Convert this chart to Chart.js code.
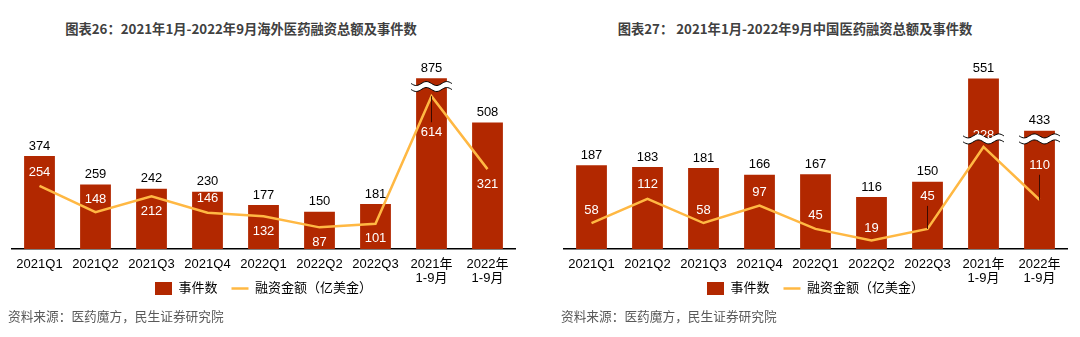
<!DOCTYPE html>
<html>
<head>
<meta charset="utf-8">
<script src="https://cdn.jsdelivr.net/npm/chart.js@4.4.0/dist/chart.umd.min.js"></script>
<style>
  body { margin: 0; background: #fff; width: 1080px; height: 337px; overflow: hidden; position: relative; }
  .title { position: absolute; top: 19px; font: bold 13.3px "Noto Sans CJK SC", sans-serif; color: #404040; text-align: center; white-space: nowrap; }
  .src { position: absolute; top: 306px; font: 12.7px "Noto Sans CJK SC", sans-serif; color: #595959; white-space: nowrap; }
  .box { position: absolute; top: 0; height: 337px; }
</style>
</head>
<body>
<div class="title" style="left:0;width:482px">图表26：2021年1月-2022年9月海外医药融资总额及事件数</div>
<div class="title" style="left:540px;width:510px">图表27： 2021年1月-2022年9月中国医药融资总额及事件数</div>
<div class="box" style="left:-10px;width:530px"><canvas id="abroad" width="530" height="337"></canvas></div>
<div class="box" style="left:522px;width:558px"><canvas id="china" width="558" height="337"></canvas></div>
<div class="src" style="left:8px">资料来源：医药魔方，民生证券研究院</div>
<div class="src" style="left:561px">资料来源：医药魔方，民生证券研究院</div>
<script>
// ── Data ─────────────────────────────────────────────────

const categories = ['2021Q1', '2021Q2', '2021Q3', '2021Q4', '2022Q1', '2022Q2', '2022Q3', ['2021年', '1-9月'], ['2022年', '1-9月']];

// 海外
const abroadEvents = [374, 259, 242, 230, 177, 150, 181, 875, 508];
const abroadAmount = [254, 148, 212, 146, 132, 87, 101, 614, 321];
// broken-axis bars: height the bar is drawn to, and where the break sits
const abroadEventsCut = [null, null, null, null, null, null, null, 686, null];
const abroadBreakAt   = [null, null, null, null, null, null, null, 653, null];

// 中国
const chinaEvents = [187, 183, 181, 166, 167, 116, 150, 551, 433];
const chinaAmount = [58, 112, 58, 97, 45, 19, 45, 228, 110];
const chinaEventsCut = [null, null, null, null, null, null, null, 381, 264];
const chinaBreakAt   = [null, null, null, null, null, null, null, 246, 246];

// label placement of the amount numbers (px from the line point)
const abroadAmtOffset = [-13, -13, 15, -14, 15, 15, 15, 36, 15];
const chinaAmtOffset  = [-13, -14, -13, -13, -13, -12, -32, -12, -34];

const BAR = '#B22800';
const LINE = '#FFB843';
const FONT = '"Liberation Sans", "Noto Sans CJK SC", sans-serif';

// ── Helpers ──────────────────────────────────────────────

function wave(ctx, x0, x1, y, amp, reverse) {
  const n = 30;
  for (let k = 0; k <= n; k++) {
    const t = reverse ? n - k : k;
    const x = x0 + (x1 - x0) * t / n;
    const yy = y + amp * Math.sin(t / n * Math.PI * 4);
    if (k === 0 && !reverse) ctx.moveTo(x, yy); else ctx.lineTo(x, yy);
  }
}

function drawBreak(ctx, x0, x1, yc) {
  const gap = 3;
  ctx.save();
  ctx.beginPath();
  wave(ctx, x0, x1, yc - gap, 2, false);
  wave(ctx, x0, x1, yc + gap, 2, true);
  ctx.closePath();
  ctx.fillStyle = '#fff';
  ctx.fill();
  ctx.strokeStyle = '#000';
  ctx.lineWidth = 1;
  ctx.beginPath();
  wave(ctx, x0, x1, yc - gap, 2, false);
  ctx.stroke();
  ctx.beginPath();
  wave(ctx, x0, x1, yc + gap, 2, false);
  ctx.stroke();
  ctx.restore();
}

function marksPlugin(events, breaks, amounts, offsets) {
  return {
    id: 'marks',
    afterDatasetDraw(chart, args) {
      if (args.index !== 0) return;
      const bars = chart.getDatasetMeta(0).data;
      breaks.forEach((b, i) => {
        if (b == null) return;
        const bar = bars[i];
        drawBreak(chart.ctx, bar.x - bar.width / 2 - 5, bar.x + bar.width / 2 + 5, chart.scales.y.getPixelForValue(b));
      });
    },
    afterDatasetsDraw(chart) {
      const ctx = chart.ctx;
      const bars = chart.getDatasetMeta(0).data;
      const pts = chart.getDatasetMeta(1).data;
      ctx.save();
      ctx.font = '13px ' + FONT;
      ctx.textAlign = 'center';
      ctx.textBaseline = 'middle';
      bars.forEach((bar, i) => {
        ctx.fillStyle = '#000';
        ctx.fillText(events[i], bar.x, bar.y - 10);
      });
      pts.forEach((p, i) => {
        const ly = p.y + offsets[i];
        if (Math.abs(offsets[i]) > 25) {
          ctx.strokeStyle = '#3b0a00';
          ctx.lineWidth = 1;
          ctx.beginPath();
          ctx.moveTo(p.x, p.y);
          ctx.lineTo(p.x, offsets[i] > 0 ? ly - 10 : ly + 9);
          ctx.stroke();
        }
        ctx.fillStyle = '#fff';
        ctx.fillText(amounts[i], p.x, ly);
      });
      ctx.restore();
    }
  };
}

function makeChart(id, events, cut, breaks, amounts, offsets, yMax, padLeft, padRight) {
  return new Chart(document.getElementById(id), {
    data: {
      labels: categories,
      datasets: [
        {
          type: 'bar',
          label: '事件数',
          data: events.map((v, i) => cut[i] ?? v),
          backgroundColor: BAR,
          barPercentage: 0.55,
          categoryPercentage: 1,
          order: 1
        },
        {
          type: 'line',
          label: '融资金额（亿美金）',
          data: amounts,
          borderColor: LINE,
          backgroundColor: LINE,
          borderWidth: 2.5,
          pointRadius: 0,
          tension: 0,
          order: 0
        }
      ]
    },
    options: {
      responsive: false,
      animation: false,
      layout: { padding: { top: 40, left: padLeft, right: padRight, bottom: 32 } },
      plugins: {
        tooltip: { enabled: false },
        legend: {
          position: 'bottom',
          labels: {
            usePointStyle: true,
            pointStyleWidth: 17,
            boxHeight: 13,
            padding: 14,
            color: '#000',
            font: { family: FONT, size: 13 },
            sort: (a, b) => a.datasetIndex - b.datasetIndex,
            generateLabels: (chart) => chart.data.datasets.map((ds, i) => ({
              text: ds.label,
              datasetIndex: i,
              fillStyle: i === 0 ? BAR : LINE,
              strokeStyle: i === 0 ? BAR : LINE,
              lineWidth: i === 0 ? 0 : 2.5,
              pointStyle: i === 0 ? 'rect' : 'line',
              fontColor: '#000'
            }))
          }
        }
      },
      scales: {
        x: {
          grid: { display: false, drawTicks: false },
          border: { display: true, color: '#000', width: 1.5 },
          ticks: { color: '#000', padding: 8, font: { family: FONT, size: 13, lineHeight: 1.08 } },
          // second label line runs down beside the legend, as in the source
          afterFit: (s) => { s.height = 19; s._computeLabelArea = () => undefined; }
        },
        y: { display: false, min: 0, max: yMax }
      }
    },
    plugins: [marksPlugin(events, breaks, amounts, offsets)]
  });
}

makeChart('abroad', abroadEvents, abroadEventsCut, abroadBreakAt, abroadAmount, abroadAmtOffset, 840, 21.5, 4.5);
makeChart('china', chinaEvents, chinaEventsCut, chinaBreakAt, chinaAmount, chinaAmtOffset, 467, 41.5, 12.5);
</script>
</body>
</html>
